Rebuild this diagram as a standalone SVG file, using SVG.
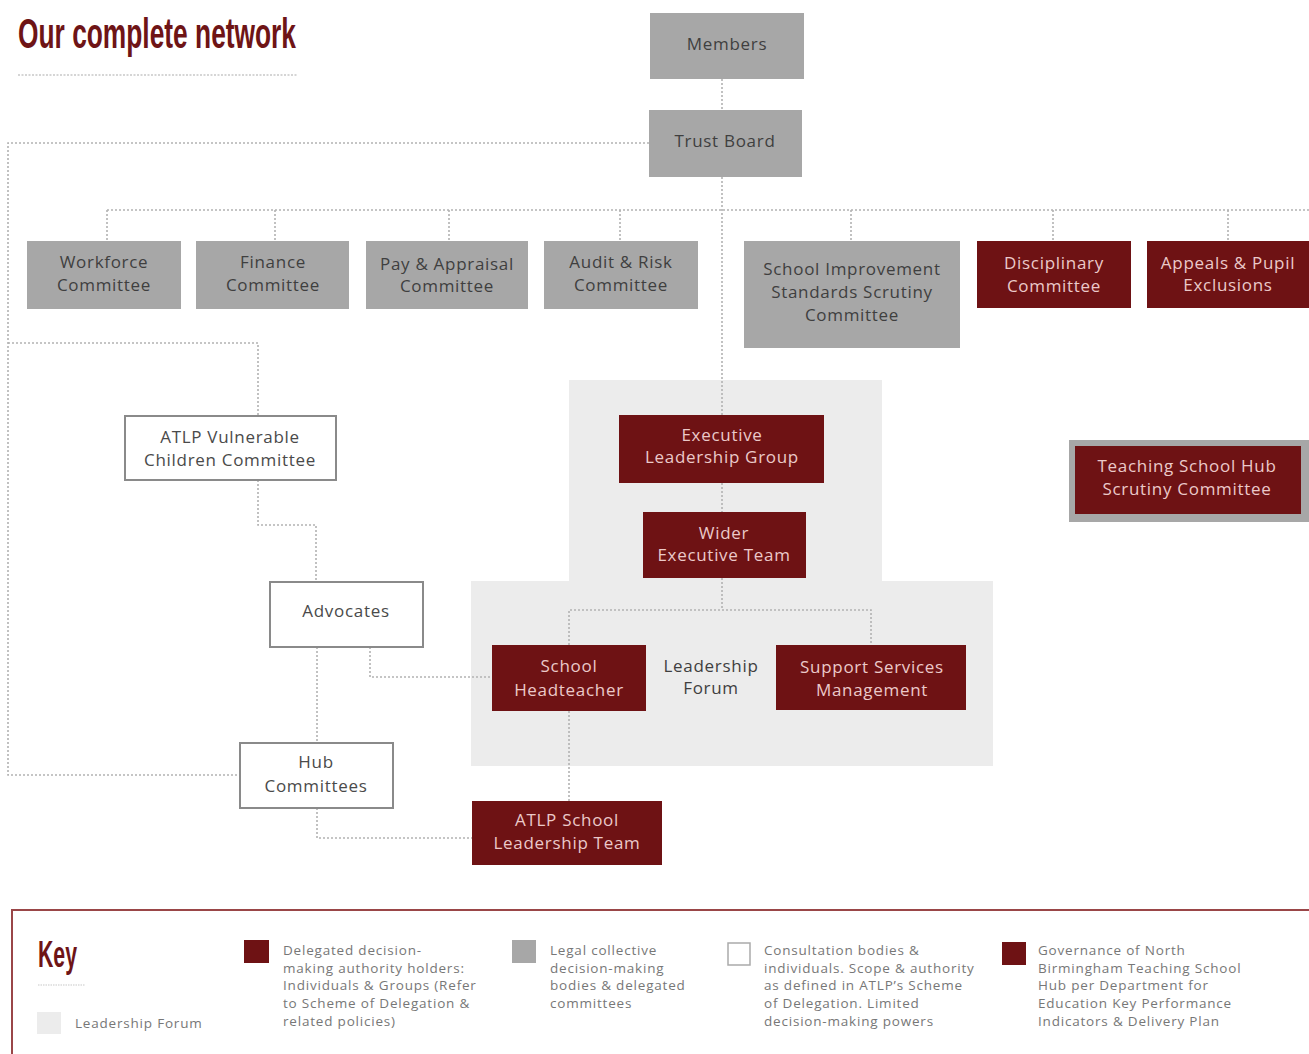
<svg xmlns="http://www.w3.org/2000/svg" width="1309" height="1054" viewBox="0 0 1309 1054">
<style>
text{font-family:"Open Sans","Liberation Sans",sans-serif;}
.t{font-size:17px;text-anchor:middle;letter-spacing:0.7px;}
.grey{fill:#a7a7a7;}
.gt{fill:#3f3f3f;}
.mar{fill:#6e1214;}
.mt{fill:#ebc9c9;}
.wh{fill:#ffffff;stroke:#8a8a8a;stroke-width:2;}
.wt{fill:#4a4a4a;}
.conn{fill:none;stroke:#b2b2b2;stroke-width:1.6;stroke-dasharray:2 2;}
.bg{fill:#ececec;}
.key{font-size:13.5px;fill:#777;letter-spacing:0.8px;}
.head{font-family:"Liberation Sans","DejaVu Sans",sans-serif;font-weight:bold;fill:#6e1416;}
</style>
<rect width="1309" height="1054" fill="#ffffff"/>
<g id="title">
<text class="head" x="18" y="48" font-size="42" textLength="278" lengthAdjust="spacingAndGlyphs">Our complete network</text>
<line x1="18" y1="75" x2="298" y2="75" stroke="#c8c8c8" stroke-width="1.5" stroke-dasharray="2 1.5"/>
</g>
<g id="leadership-forum-bg">
<rect class="bg" x="569" y="380" width="313" height="202"/>
<rect class="bg" x="471" y="581" width="522" height="185"/>
</g>
<g id="connectors">
<path class="conn" d="M722 79V110"/>
<path class="conn" d="M649 143H8V775H240"/>
<path class="conn" d="M8 343H258V416"/>
<path class="conn" d="M722 177V415"/>
<path class="conn" d="M107 210H1309"/>
<path class="conn" d="M107 210V241M275 210V241M449 210V241M620 210V241M851 210V241M1053 210V241M1228 210V241"/>
<path class="conn" d="M722 483V512M722 578V610"/>
<path class="conn" d="M569 645V610H871V645"/>
<path class="conn" d="M569 711V801"/>
<path class="conn" d="M258 480V525H316V582"/>
<path class="conn" d="M370 647V677H492"/>
<path class="conn" d="M317 647V743"/>
<path class="conn" d="M317 808V838H472"/>
</g>
<g id="members"><rect class="grey" x="650" y="13" width="154" height="66"/><text class="t gt" x="727" y="50">Members</text></g>
<g id="trust-board"><rect class="grey" x="649" y="110" width="153" height="67"/><text class="t gt" x="725" y="147">Trust Board</text></g>
<g id="workforce"><rect class="grey" x="27" y="241" width="154" height="68"/><text class="t gt" x="104" y="268">Workforce</text><text class="t gt" x="104" y="291">Committee</text></g>
<g id="finance"><rect class="grey" x="196" y="241" width="153" height="68"/><text class="t gt" x="273" y="268">Finance</text><text class="t gt" x="273" y="291">Committee</text></g>
<g id="pay"><rect class="grey" x="366" y="241" width="162" height="68"/><text class="t gt" x="447" y="270" letter-spacing="0">Pay &amp; Appraisal</text><text class="t gt" x="447" y="292">Committee</text></g>
<g id="audit"><rect class="grey" x="544" y="241" width="154" height="68"/><text class="t gt" x="621" y="268">Audit &amp; Risk</text><text class="t gt" x="621" y="291">Committee</text></g>
<g id="school-improvement"><rect class="grey" x="744" y="241" width="216" height="107"/><text class="t gt" x="852" y="275">School Improvement</text><text class="t gt" x="852" y="298">Standards Scrutiny</text><text class="t gt" x="852" y="321">Committee</text></g>
<g id="disciplinary"><rect class="mar" x="977" y="241" width="154" height="67"/><text class="t mt" x="1054" y="269">Disciplinary</text><text class="t mt" x="1054" y="292">Committee</text></g>
<g id="appeals"><rect class="mar" x="1147" y="241" width="162" height="67"/><text class="t mt" x="1228" y="269" letter-spacing="0.2">Appeals &amp; Pupil</text><text class="t mt" x="1228" y="291">Exclusions</text></g>
<g id="elg"><rect class="mar" x="619" y="415" width="205" height="68"/><text class="t mt" x="722" y="441">Executive</text><text class="t mt" x="722" y="463">Leadership Group</text></g>
<g id="wet"><rect class="mar" x="643" y="512" width="163" height="66"/><text class="t mt" x="724" y="539">Wider</text><text class="t mt" x="724" y="561">Executive Team</text></g>
<g id="headteacher"><rect class="mar" x="492" y="645" width="154" height="66"/><text class="t mt" x="569" y="672">School</text><text class="t mt" x="569" y="696">Headteacher</text></g>
<g id="leadership-forum-label"><text class="t" fill="#3f3f3f" x="711" y="672">Leadership</text><text class="t" fill="#3f3f3f" x="711" y="694">Forum</text></g>
<g id="support"><rect class="mar" x="776" y="645" width="190" height="65"/><text class="t mt" x="872" y="673">Support Services</text><text class="t mt" x="872" y="696">Management</text></g>
<g id="atlp-slt"><rect class="mar" x="472" y="801" width="190" height="64"/><text class="t mt" x="567" y="826">ATLP School</text><text class="t mt" x="567" y="849">Leadership Team</text></g>
<g id="vulnerable"><rect class="wh" x="125" y="416" width="211" height="64"/><text class="t wt" x="230" y="443">ATLP Vulnerable</text><text class="t wt" x="230" y="466">Children Committee</text></g>
<g id="advocates"><rect class="wh" x="270" y="582" width="153" height="65"/><text class="t wt" x="346" y="617">Advocates</text></g>
<g id="hub"><rect class="wh" x="240" y="743" width="153" height="65"/><text class="t wt" x="316" y="768">Hub</text><text class="t wt" x="316" y="792">Committees</text></g>
<g id="tsh"><rect x="1069" y="440" width="240" height="82" fill="#a7a7a7"/><rect class="mar" x="1075" y="446" width="226" height="68"/><text class="t mt" x="1187" y="472">Teaching School Hub</text><text class="t mt" x="1187" y="495">Scrutiny Committee</text></g>
<g id="key">
<rect x="12" y="910" width="1310" height="160" fill="none" stroke="#9a4648" stroke-width="2"/>
<text class="head" x="38" y="967" font-size="36" textLength="39" lengthAdjust="spacingAndGlyphs">Key</text>
<line x1="38" y1="985" x2="85" y2="985" stroke="#c8c8c8" stroke-width="1.2" stroke-dasharray="1.5 1"/>
<rect x="37" y="1012" width="24" height="22" fill="#ececec"/>
<text class="key" x="75" y="1028">Leadership Forum</text>
<rect x="244" y="940" width="25" height="23" fill="#6e1214"/>
<text class="key" x="283" y="955">Delegated decision-</text>
<text class="key" x="283" y="973">making authority holders:</text>
<text class="key" x="283" y="990">Individuals &amp; Groups (Refer</text>
<text class="key" x="283" y="1008">to Scheme of Delegation &amp;</text>
<text class="key" x="283" y="1026">related policies)</text>
<rect x="512" y="940" width="24" height="23" fill="#a7a7a7"/>
<text class="key" x="550" y="955">Legal collective</text>
<text class="key" x="550" y="973">decision-making</text>
<text class="key" x="550" y="990">bodies &amp; delegated</text>
<text class="key" x="550" y="1008">committees</text>
<rect x="728" y="943" width="22" height="22" fill="#fff" stroke="#aaa" stroke-width="1.5"/>
<text class="key" x="764" y="955">Consultation bodies &amp;</text>
<text class="key" x="764" y="973">individuals. Scope &amp; authority</text>
<text class="key" x="764" y="990">as defined in ATLP’s Scheme</text>
<text class="key" x="764" y="1008">of Delegation. Limited</text>
<text class="key" x="764" y="1026">decision-making powers</text>
<rect x="1002" y="942" width="24" height="23" fill="#6e1214"/>
<text class="key" x="1038" y="955">Governance of North</text>
<text class="key" x="1038" y="973">Birmingham Teaching School</text>
<text class="key" x="1038" y="990">Hub per Department for</text>
<text class="key" x="1038" y="1008">Education Key Performance</text>
<text class="key" x="1038" y="1026">Indicators &amp; Delivery Plan</text>
</g>
</svg>
